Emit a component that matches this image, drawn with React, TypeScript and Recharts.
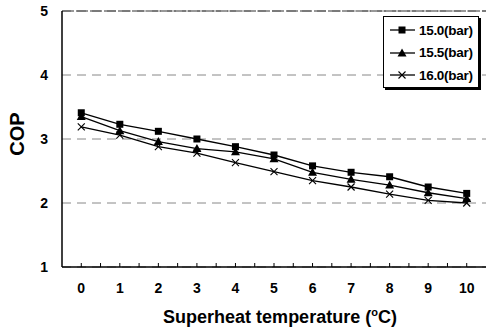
import React from 'react';
import { LineChart, Line, XAxis, YAxis, CartesianGrid, Legend, Label, ReferenceLine } from 'recharts';

const FONT = '"Liberation Sans", Arial, sans-serif';

// superheat temperature (°C)
const superheat = [0, 1, 2, 3, 4, 5, 6, 7, 8, 9, 10];
// COP per pressure
const cop150 = [3.41, 3.23, 3.12, 3.0, 2.88, 2.75, 2.58, 2.48, 2.41, 2.25, 2.15];
const cop155 = [3.35, 3.13, 2.96, 2.85, 2.8, 2.69, 2.48, 2.37, 2.28, 2.16, 2.07];
const cop160 = [3.19, 3.06, 2.88, 2.78, 2.63, 2.49, 2.35, 2.25, 2.14, 2.04, 2.0];
const seriesNames = ['15.0(bar)', '15.5(bar)', '16.0(bar)'];

const xTicks = [0, 0.5, 1, 1.5, 2, 2.5, 3, 3.5, 4, 4.5, 5, 5.5, 6, 6.5, 7, 7.5, 8, 8.5, 9, 9.5, 10];
const yTicks = [1, 2, 3, 4, 5];

const data = superheat.map((t, i) => ({
    t,
    s150: cop150[i],
    s155: cop155[i],
    s160: cop160[i],
}));

const SquareMark = ({ cx, cy }: any) => (
    <rect x={cx - 3.5} y={cy - 3.5} width={7} height={7} fill="#000" />
);
const TriangleMark = ({ cx, cy }: any) => (
    <polygon points={`${cx},${cy - 4.5} ${cx - 4.5},${cy + 3.5} ${cx + 4.5},${cy + 3.5}`} fill="#000" />
);
const CrossMark = ({ cx, cy }: any) => (
    <g stroke="#000" strokeWidth={1.1}>
        <line x1={cx - 3.5} y1={cy - 3.5} x2={cx + 3.5} y2={cy + 3.5} />
        <line x1={cx - 3.5} y1={cy + 3.5} x2={cx + 3.5} y2={cy - 3.5} />
    </g>
);
const marks = [SquareMark, TriangleMark, CrossMark];

const XTick = (props: any) => {
    const { x, y, payload } = props;
    const v = payload.value;
    return (
        <g>
            <line x1={x} y1={y} x2={x} y2={y - 4} stroke="#000" strokeWidth={1} />
            {Number.isInteger(v) && (
                <text x={x} y={y + 26} textAnchor="middle" fontFamily={FONT} fontWeight="bold" fontSize={14} fill="#000">
                    {v}
                </text>
            )}
        </g>
    );
};

const renderLegend = () => (
    <div
        style={{
            border: '1px solid #000',
            boxShadow: '2px 2px 0 #000',
            background: '#fff',
            width: 94,
            padding: '2px 0 0 0',
            fontFamily: FONT,
            fontWeight: 'bold',
            fontSize: 13.5,
            color: '#000',
        }}
    >
        {seriesNames.map((name, i) => {
            const Mark = marks[i];
            return (
                <div key={name} style={{ display: 'flex', alignItems: 'center', height: 22.5 }}>
                    <svg width={35} height={22} style={{ display: 'block' }}>
                        <line x1={6} y1={11} x2={31} y2={11} stroke="#000" strokeWidth={1.3} />
                        <Mark cx={18} cy={11} />
                    </svg>
                    <span style={{ letterSpacing: -0.3 }}>{name}</span>
                </div>
            );
        })}
    </div>
);

const XTitle = ({ viewBox }: any) => (
    <text x={viewBox.x + viewBox.width / 2 + 6} y={viewBox.y + 56} textAnchor="middle" fontFamily={FONT} fontWeight="bold" fontSize={18} fill="#000">
        Superheat temperature (
        <tspan fontSize={11} dy={-7}>o</tspan>
        <tspan dy={7}>C)</tspan>
    </text>
);

const YTitle = () => (
    <text x={17} y={134} transform="rotate(-90 17 134)" textAnchor="middle" dominantBaseline="central" fontFamily={FONT} fontWeight="bold" fontSize={20} fill="#000">
        COP
    </text>
);

export default function App() {
    return (
        <>
            <style>{'body{margin:0}'}</style>
            <LineChart width={486} height={332} data={data} margin={{ top: 11, right: 0, left: 0, bottom: 0 }}>
                {/* dashed grid */}
                <CartesianGrid vertical={false} stroke="#888" strokeDasharray="9 6" />
                <ReferenceLine y={5} stroke="#333" strokeDasharray="12 2" />

                <XAxis
                    dataKey="t"
                    type="number"
                    domain={[-0.5, 10.5]}
                    ticks={xTicks}
                    interval={0}
                    height={65}
                    tickSize={0}
                    tickMargin={0}
                    tickLine={false}
                    tick={<XTick />}
                    axisLine={{ stroke: '#000', strokeWidth: 1.5 }}
                >
                    <Label content={<XTitle />} />
                </XAxis>
                <YAxis
                    type="number"
                    domain={[1, 5]}
                    ticks={yTicks}
                    width={62}
                    tickSize={0}
                    tickMargin={14}
                    tickLine={false}
                    tick={{ fill: '#000', fontFamily: FONT, fontWeight: 'bold', fontSize: 14 }}
                    axisLine={{ stroke: '#000', strokeWidth: 1.5 }}
                >
                    <Label content={<YTitle />} />
                </YAxis>

                <Legend
                    layout="vertical"
                    align="center"
                    verticalAlign="middle"
                    content={renderLegend}
                    wrapperStyle={{ left: 383, top: 16, width: 'auto' }}
                />

                <Line dataKey="s160" name={seriesNames[2]} stroke="#000" strokeWidth={1.3} dot={<CrossMark />} isAnimationActive={false} />
                <Line dataKey="s155" name={seriesNames[1]} stroke="#000" strokeWidth={1.3} dot={<TriangleMark />} isAnimationActive={false} />
                <Line dataKey="s150" name={seriesNames[0]} stroke="#000" strokeWidth={1.3} dot={<SquareMark />} isAnimationActive={false} />
            </LineChart>
        </>
    );
}
